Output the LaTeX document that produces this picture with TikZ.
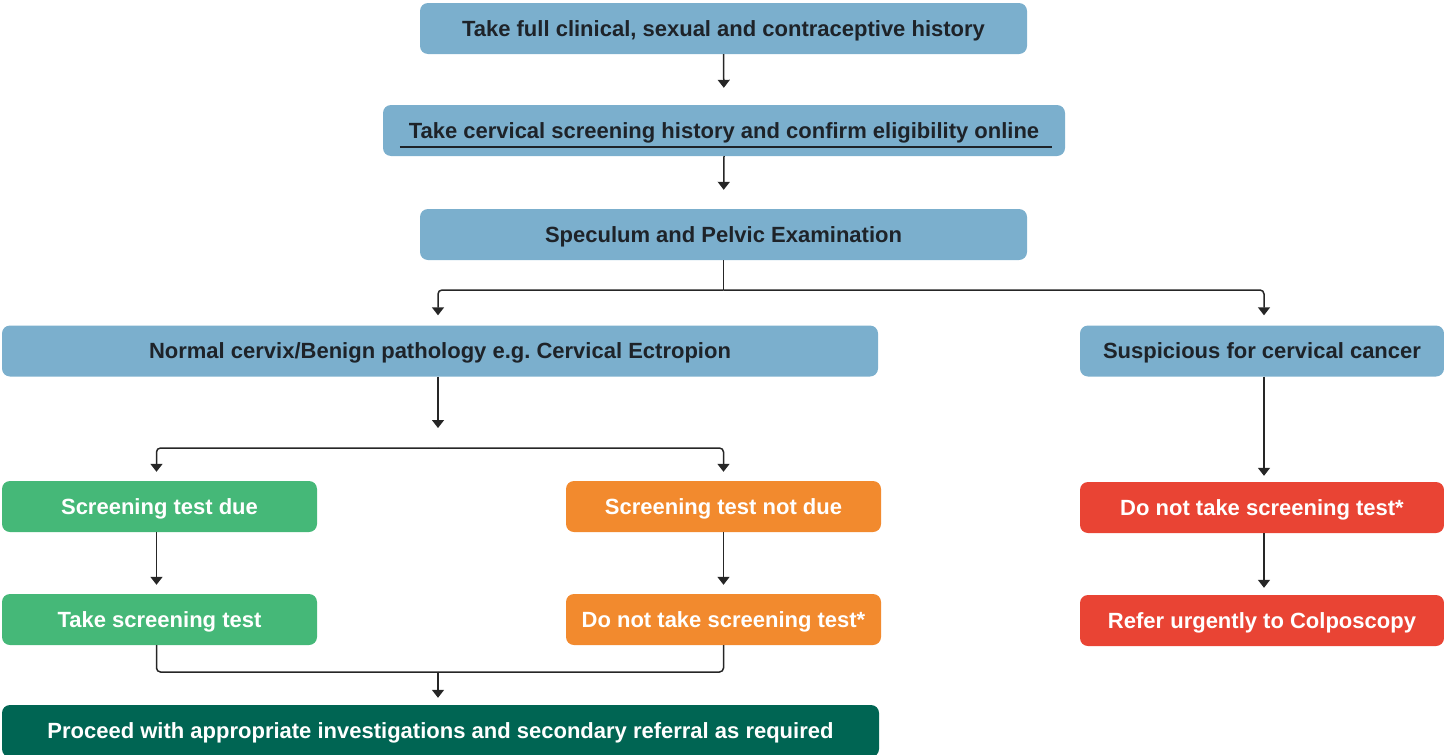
\documentclass[tikz,border=0pt]{standalone}
\usepackage{fontspec}
\setmainfont{Liberation Sans}
\usetikzlibrary{arrows.meta,calc}
\definecolor{boxblue}{HTML}{7BAFCD}
\definecolor{boxgreen}{HTML}{45B878}
\definecolor{boxorange}{HTML}{F28A2E}
\definecolor{boxred}{HTML}{E94434}
\definecolor{boxdark}{HTML}{006553}
\definecolor{txtdark}{HTML}{1E2329}
\tikzset{
  box/.style={rounded corners=8pt, minimum height=51pt, inner sep=0pt, anchor=center,
    text height=15.8pt, text depth=0pt,
    font=\bfseries\fontsize{22}{24}\selectfont},
  bluebox/.style={box, fill=boxblue, text=txtdark},
  greenbox/.style={box, fill=boxgreen, text=white},
  orangebox/.style={box, fill=boxorange, text=white},
  redbox/.style={box, fill=boxred, text=white},
  darkbox/.style={box, fill=boxdark, text=white},
  arr/.style={line width=1.5pt, draw=black!85, -{Triangle[width=12pt,length=8pt]}, rounded corners=4pt},
  ln/.style={line width=1.5pt, draw=black!85, rounded corners=4pt}
}
\begin{document}
\begin{tikzpicture}[x=1pt,y=-1pt]
\useasboundingbox (0,0) rectangle (1444,755);
\node[bluebox,minimum width=607pt] (b1) at (723.5,28.5) {Take full clinical, sexual and contraceptive history};
\node[bluebox,minimum width=682pt] (b2) at (724,130.5) {Take cervical screening history and confirm eligibility online};
\node[bluebox,minimum width=607pt] (b3) at (723.5,234.5) {Speculum and Pelvic Examination};
\node[bluebox,minimum width=876pt] (b4) at (440,351) {Normal cervix/Benign pathology e.g.\ Cervical Ectropion};
\node[bluebox,minimum width=364pt] (b5) at (1262,351) {Suspicious for cervical cancer};
\node[greenbox,minimum width=315pt] (g1) at (159.5,506.5) {Screening test due};
\node[orangebox,minimum width=315pt] (o1) at (723.5,506.5) {Screening test not due};
\node[greenbox,minimum width=315pt] (g2) at (159.5,619.5) {Take screening test};
\node[orangebox,minimum width=315pt] (o2) at (723.5,619.5) {Do not take screening test*};
\node[darkbox,minimum width=877pt,minimum height=52pt] (dg) at (440.5,731) {Proceed with appropriate investigations and secondary referral as required};
\node[redbox,minimum width=364pt] (r1) at (1262,507.5) {Do not take screening test*};
\node[redbox,minimum width=364pt] (r2) at (1262,620.5) {Refer urgently to Colposcopy};
% underline
\draw[line width=1.5pt,txtdark] ($(b2.south west)+(17,-9)$) -- ($(b2.south east)+(-13,-9)$);
% coordinates
\coordinate (s1) at (723.5,290);
\coordinate (s2) at (438,448);
\coordinate (m1) at (438,672);
% connectors
\draw[arr,shorten >=17pt] (b1.south) -- (b2.north);
\draw[arr,shorten >=19pt] (b2.south) -- (b3.north);
\draw[ln] (b3.south) -- (s1);
\draw[arr,shorten >=10pt] (s1) -| ([xshift=-2pt]b4.north);
\draw[arr,shorten >=10pt] (s1) -| ([xshift=2pt]b5.north);
\draw[arr] ([xshift=-2pt]b4.south) -- ($(s2)+(0,-20)$);
\draw[arr,shorten >=9pt] (s2) -| ([xshift=-3pt]g1.north);
\draw[arr,shorten >=9pt] (s2) -| (o1.north);
\draw[arr,shorten >=9pt] ([xshift=-3pt]g1.south) -- ([xshift=-3pt]g2.north);
\draw[arr,shorten >=9pt] (o1.south) -- (o2.north);
\draw[ln] ([xshift=-3pt]g2.south) |- (m1);
\draw[ln] (o2.south) |- (m1);
\draw[arr,shorten >=7pt] (m1) -- (m1 |- dg.north);
\draw[arr,shorten >=6pt] ([xshift=2pt]b5.south) -- ([xshift=2pt]r1.north);
\draw[arr,shorten >=7pt] ([xshift=2pt]r1.south) -- ([xshift=2pt]r2.north);
\end{tikzpicture}
\end{document}
